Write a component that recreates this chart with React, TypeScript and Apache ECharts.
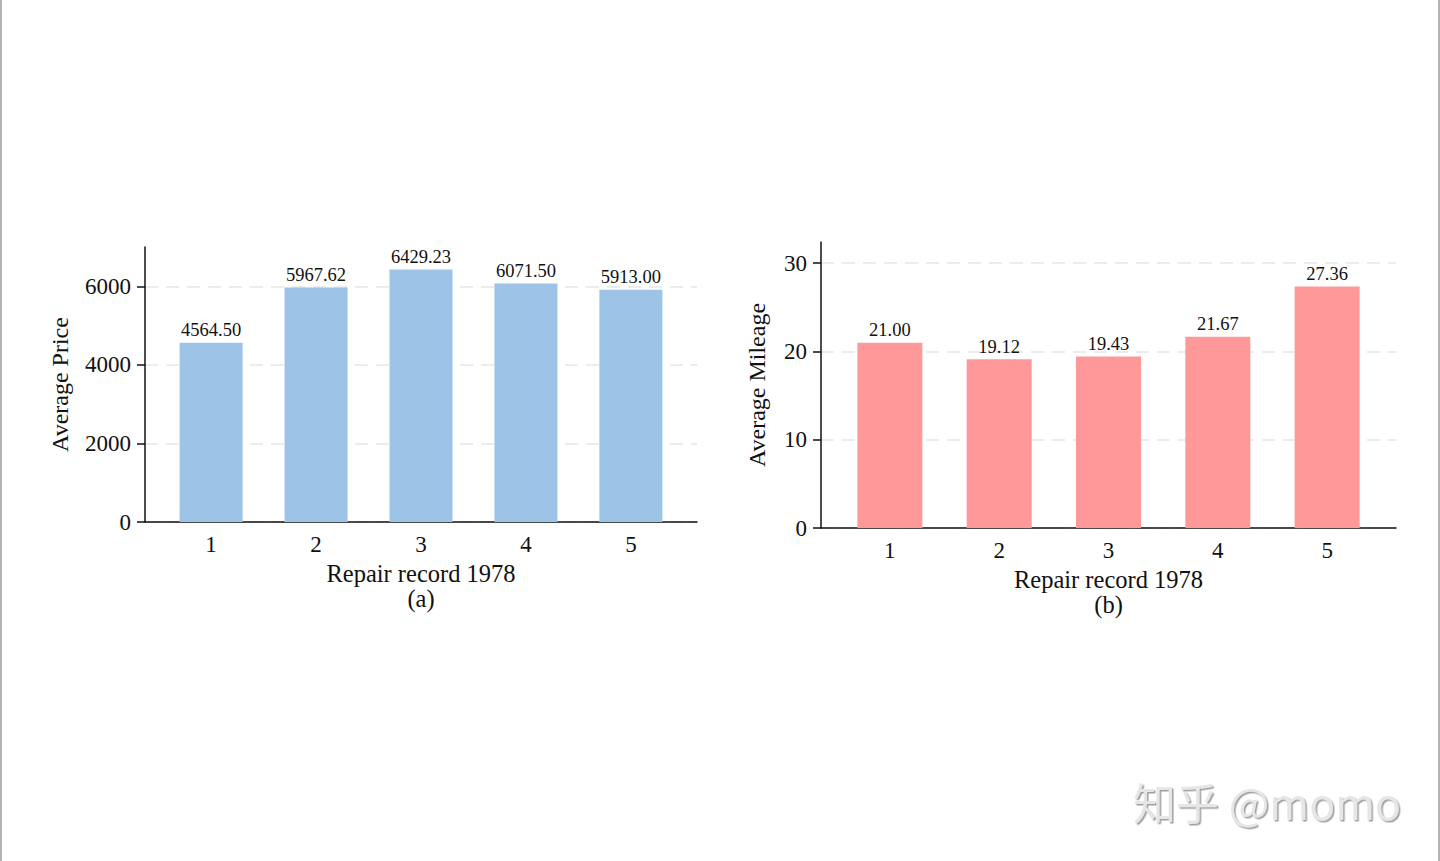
import React, { useEffect, useRef } from "react";
import * as echarts from "echarts";

// Repair record categories shared by both panels
const repairRecords = [1, 2, 3, 4, 5];
// Panel (a): mean price by repair record
const avgPrice = [4564.5, 5967.62, 6429.23, 6071.5, 5913.0];
// Panel (b): mean mileage by repair record
const avgMileage = [21.0, 19.12, 19.43, 21.67, 27.36];
const priceTicks = [0, 2000, 4000, 6000];
const mileageTicks = [0, 10, 20, 30];

const SERIF = "'Times New Roman', 'Liberation Serif', serif";
const INK = "#111111";

function xAxisFor(gridIndex: number, name: string) {
  return {
    type: "value",
    gridIndex,
    min: 0.37,
    max: 5.63,
    name,
    nameLocation: "middle",
    nameGap: 39,
    nameMoveOverlap: false,
    nameTextStyle: { fontFamily: SERIF, fontSize: 24.5, color: INK, lineHeight: 25 },
    axisLine: { show: true, onZero: false, lineStyle: { color: INK, width: 1.5 } },
    axisTick: { show: false },
    splitLine: { show: false },
    axisLabel: {
      customValues: repairRecords,
      fontFamily: SERIF,
      fontSize: 23,
      color: INK,
      margin: 11,
      formatter: (v: number) => String(v),
    },
  };
}

function yAxisFor(gridIndex: number, name: string, max: number, ticks: number[], nameGap: number) {
  return {
    type: "value",
    gridIndex,
    min: 0,
    max,
    name,
    nameLocation: "middle",
    nameGap,
    nameMoveOverlap: false,
    nameTextStyle: { fontFamily: SERIF, fontSize: 24, color: INK },
    axisLine: { show: true, lineStyle: { color: INK, width: 1.5 } },
    axisTick: {
      show: true,
      customValues: ticks,
      length: 8,
      lineStyle: { color: INK, width: 1.5 },
    },
    axisLabel: {
      customValues: ticks,
      fontFamily: SERIF,
      fontSize: 23,
      color: INK,
      margin: 14,
      formatter: (v: number) => String(v),
    },
    splitLine: {
      show: true,
      lineStyle: { color: "#e6e6e6", width: 1.5, type: [13, 8] },
    },
  };
}

function barSeries(axisIndex: number, values: number[], color: string, barWidth: number) {
  return {
    type: "bar",
    xAxisIndex: axisIndex,
    yAxisIndex: axisIndex,
    barWidth,
    data: repairRecords.map((r, i) => [r, values[i]]),
    itemStyle: { color },
    label: {
      show: true,
      position: "top",
      distance: 3,
      fontFamily: SERIF,
      fontSize: 18.5,
      color: INK,
      formatter: (p: any) => Number(p.value[1]).toFixed(2),
    },
  };
}

export default function App() {
  const ref = useRef<HTMLDivElement>(null);

  useEffect(() => {
    if (!ref.current) return;
    const chart = echarts.init(ref.current, null, { renderer: "svg" });
    chart.setOption({
      animation: false,
      backgroundColor: "#ffffff",
      grid: [
        { left: 145, right: 743, top: 247, bottom: 339, outerBoundsMode: "none" },
        { left: 821, right: 44, top: 242, bottom: 333, outerBoundsMode: "none" },
      ],
      xAxis: [
        xAxisFor(0, "Repair record 1978\n(a)"),
        xAxisFor(1, "Repair record 1978\n(b)"),
      ],
      yAxis: [
        yAxisFor(0, "Average Price", 7000, priceTicks, 73),
        yAxisFor(1, "Average Mileage", 32.4, mileageTicks, 52),
      ],
      series: [
        barSeries(0, avgPrice, "#9dc3e6", 63),
        barSeries(1, avgMileage, "#ff9999", 65),
      ],
      graphic: [
        { type: "rect", shape: { x: 0, y: 0, width: 2, height: 861 }, style: { fill: "#b4b4b4" } },
        { type: "rect", shape: { x: 1438, y: 0, width: 2, height: 861 }, style: { fill: "#b4b4b4" } },
        {
          type: "text",
          x: 1133,
          y: 801,
          style: {
            text: "知乎 @momo",
            fontFamily: "'Noto Sans CJK SC', 'Noto Sans', sans-serif",
            fontSize: 43,
            fill: "#e6e6e6",
            verticalAlign: "middle",
            textShadowColor: "#a0a0a0",
            textShadowOffsetX: 1.5,
            textShadowOffsetY: 1.5,
            textShadowBlur: 1,
          },
        },
      ],
    });
    return () => chart.dispose();
  }, []);

  return (
    <div
      ref={ref}
      style={{ position: "fixed", left: 0, top: 0, width: 1440, height: 861 }}
    />
  );
}
